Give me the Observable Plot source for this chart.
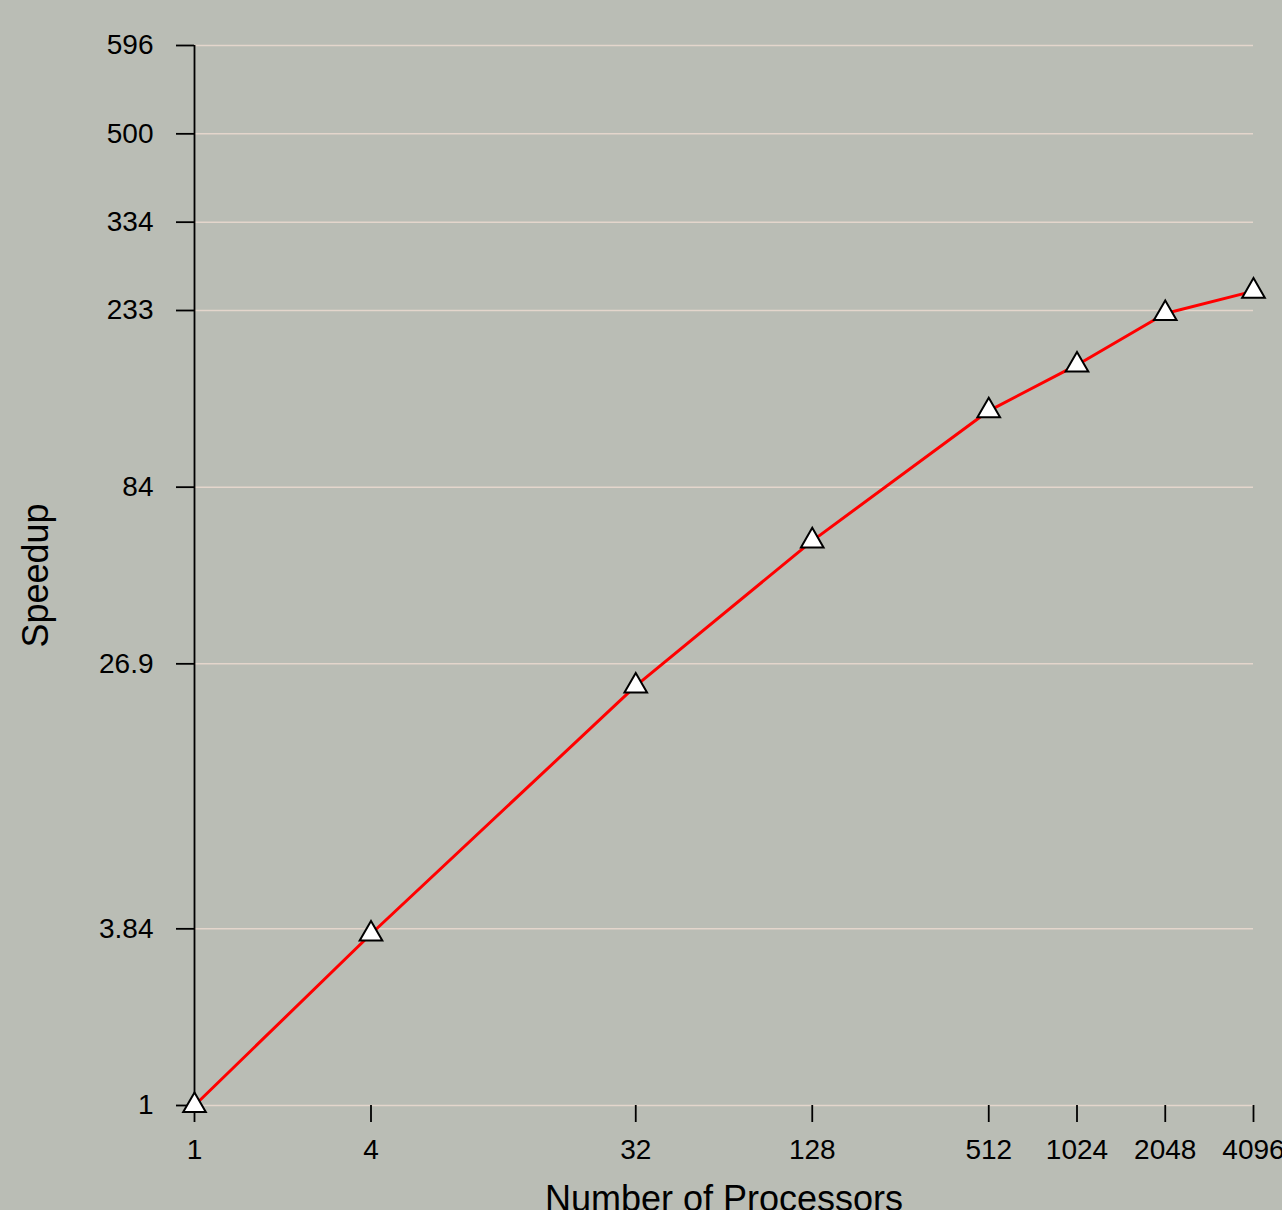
<!DOCTYPE html>
<html>
<head>
<meta charset="utf-8">
<script src="https://cdn.jsdelivr.net/npm/d3@7"></script>
<script src="https://cdn.jsdelivr.net/npm/@observablehq/plot@0.6"></script>
<style>
  html, body { margin: 0; padding: 0; background: #BABDB5; overflow: hidden; }
</style>
</head>
<body>
<div id="chart"></div>
<script>
// Data
const processors = [1, 4, 32, 128, 512, 1024, 2048, 4096];
const speedup = [1, 3.84, 26.9, 84, 233, 334, 500, 596];
// Axis ticks (y ticks sit at processor positions, labelled with the speedups)
const xTicks = [1, 4, 32, 128, 512, 1024, 2048, 4096];
const yTicks = [1, 4, 32, 128, 512, 1024, 2048, 4096];
const yTickLabels = ["1", "3.84", "26.9", "84", "233", "334", "500", "596"];

const data = processors.map((p, i) => ({p, s: speedup[i]}));
const yLabelMap = new Map(yTicks.map((t, i) => [t, yTickLabels[i]]));

const chart = Plot.plot({
  width: 1282,
  height: 1210,
  marginLeft: 194,
  marginRight: 29,
  marginTop: 45,
  marginBottom: 105,
  style: {background: "#BABDB5", fontFamily: "'Liberation Sans', Arial, sans-serif", color: "black"},
  x: {type: "log", base: 2, domain: [xTicks[0], xTicks[xTicks.length - 1]]},
  y: {type: "log", base: 2, domain: [yTicks[0], yTicks[yTicks.length - 1]]},
  marks: [
    Plot.ruleY(yTicks, {stroke: "#E4D6CC", strokeWidth: 1.5}),
    Plot.ruleX([xTicks[0]], {y1: yTicks[0], y2: yTicks[yTicks.length - 1], stroke: "black", strokeWidth: 1.8}),
    Plot.axisY(yTicks, {tickSize: 18, tickPadding: 23, fontSize: 28, label: null, strokeWidth: 1.8,
      tickFormat: d => yLabelMap.get(d)}),
    Plot.axisX(xTicks, {tickSize: 17, tickPadding: 17, fontSize: 28, label: null, strokeWidth: 1.8,
      tickFormat: d => String(d)}),
    Plot.line(data, {x: "p", y: "s", stroke: "#FF0000", strokeWidth: 3}),
    Plot.dot(data, {x: "p", y: "s", symbol: "triangle", r: 8.4, fill: "white", stroke: "black", strokeWidth: 2}),
    Plot.text(["Speedup"], {frameAnchor: "left", rotate: -90, dx: -146.5, lineAnchor: "bottom", textAnchor: "middle", fontSize: 36, fill: "black"}),
    Plot.text(["Number of Processors"], {frameAnchor: "bottom", dy: 105, lineAnchor: "bottom", textAnchor: "middle", fontSize: 36, fill: "black"})
  ]
});
document.getElementById("chart").appendChild(chart);
</script>
</body>
</html>
